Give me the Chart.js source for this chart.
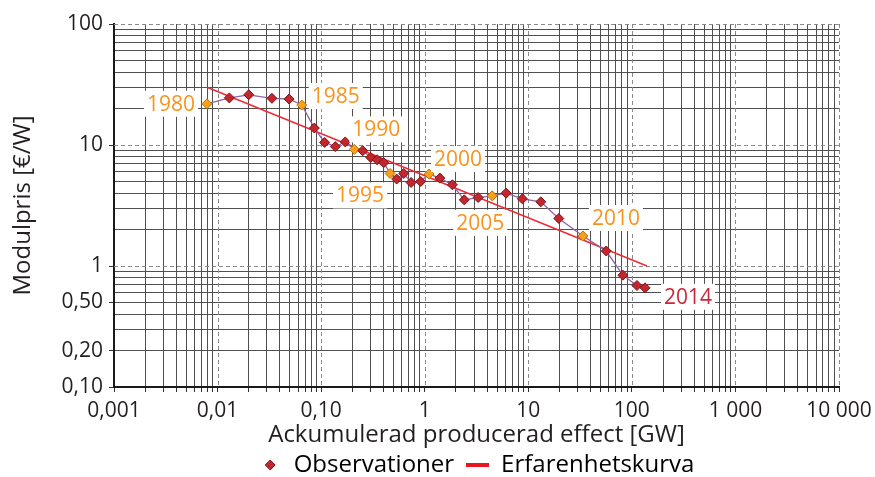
<!DOCTYPE html>
<html>
<head>
<meta charset="utf-8">
<script src="https://cdn.jsdelivr.net/npm/chart.js@4/dist/chart.umd.min.js"></script>
<style>
  body { margin: 0; background: #fff; }
  #wrap { width: 875px; height: 477px; }
</style>
</head>
<body>
<div id="wrap"><canvas id="chart"></canvas></div>
<script>
// Module price vs cumulative produced capacity (log-log)
const years = [1980, 1981, 1982, 1983, 1984, 1985, 1986, 1987, 1988, 1989,
  1990, 1991, 1992, 1993, 1994, 1995, 1996, 1997, 1998, 1999,
  2000, 2001, 2002, 2003, 2004, 2005, 2006, 2007, 2008, 2009,
  2010, 2011, 2012, 2013, 2014];
const capacityGW = [0.0079, 0.013, 0.020, 0.0335, 0.049, 0.065, 0.086, 0.108, 0.137, 0.171,
  0.209, 0.252, 0.301, 0.347, 0.402, 0.463, 0.536, 0.627, 0.738, 0.914,
  1.10, 1.40, 1.85, 2.41, 3.28, 4.48, 6.11, 8.77, 13.2, 19.7,
  33.7, 56.6, 81.9, 112, 134];
const priceEurW = [21.9, 24.5, 26.0, 24.3, 24.0, 21.4, 13.8, 10.5, 9.7, 10.6,
  9.2, 8.97, 7.89, 7.55, 7.13, 5.82, 5.23, 5.82, 4.90, 4.99,
  5.75, 5.33, 4.69, 3.52, 3.68, 3.80, 4.00, 3.59, 3.39, 2.47,
  1.77, 1.33, 0.84, 0.69, 0.66];

// experience curve end points
const curveCapacityGW = [0.0079, 140];
const curvePriceEurW = [30, 1.0];

const labelYears = [1980, 1985, 1990, 1995, 2000, 2005, 2010, 2014];

const xTickValues = [0.001, 0.01, 0.1, 1, 10, 100, 1000, 10000];
const xTickLabels = ["0,001", "0,01", "0,10", "1", "10", "100", "1 000", "10 000"];
const yTickValues = [0.1, 0.2, 0.5, 1, 10, 100];
const yTickLabels = ["0,10", "0,20", "0,50", "1", "10", "100"];

// styling
const FONT = "'Open Sans', sans-serif";
const TEXT = "#231f20";
const RED = "#c1272d";
const RED_EDGE = "#7d1518";
const ORANGE = "#f7a11a";
const ORANGE_EDGE = "#b8730c";
const LABEL_ORANGE = "#f7941d";
const LABEL_RED = "#c8283c";
const CURVE = "#ee2a35";
const PURPLE = "#8e63a8";

// label offset from its point, in px
const labelOffsets = {
  1980: [-36, 0], 1985: [34, -9], 1990: [22, -20], 1995: [-30, 22],
  2000: [29, -15], 2005: [-12, 27], 2010: [33, -18], 2014: [43, 9]
};

function logTicks(min, max) {
  const out = [];
  for (let e = Math.log10(min); e < Math.log10(max); e++) {
    for (let m = 1; m <= 9; m++) {
      out.push(parseFloat((m * Math.pow(10, e)).toPrecision(6)));
    }
  }
  out.push(max);
  return out;
}

function sameVal(a, b) {
  return Math.abs(Math.log10(a) - Math.log10(b)) < 1e-6;
}

function findIdx(list, v) {
  return list.findIndex(t => sameVal(t, v));
}

// dashed lines at each decade
const decadeGrid = {
  id: "decadeGrid",
  beforeDatasetsDraw(chart) {
    const { ctx, chartArea: a, scales: { x, y } } = chart;
    ctx.save();
    ctx.strokeStyle = "#8a8a8a";
    ctx.lineWidth = 1;
    ctx.setLineDash([4, 3]);
    xTickValues.forEach(v => {
      if (sameVal(v, xTickValues[0])) return;
      const px = Math.round(x.getPixelForValue(v)) + 0.5;
      ctx.beginPath();
      ctx.moveTo(px, a.top);
      ctx.lineTo(px, a.bottom);
      ctx.stroke();
    });
    [1, 10, 100].forEach(v => {
      const py = Math.round(y.getPixelForValue(v)) + 0.5;
      ctx.beginPath();
      ctx.moveTo(a.left, py);
      ctx.lineTo(a.right, py);
      ctx.stroke();
    });
    ctx.restore();
  }
};

// year labels on white boxes
const yearLabels = {
  id: "yearLabels",
  afterDatasetsDraw(chart) {
    const { ctx } = chart;
    const meta = chart.getDatasetMeta(0);
    ctx.save();
    ctx.font = "21px " + FONT;
    ctx.textAlign = "center";
    ctx.textBaseline = "middle";
    labelYears.forEach(yr => {
      const i = years.indexOf(yr);
      const pt = meta.data[i];
      const off = labelOffsets[yr];
      const cx = pt.x + off[0];
      const cy = pt.y + off[1];
      const w = ctx.measureText(String(yr)).width + 6;
      ctx.fillStyle = "#fff";
      ctx.fillRect(cx - w / 2, cy - 13, w, 26);
      ctx.fillStyle = yr % 5 === 0 ? LABEL_ORANGE : LABEL_RED;
      ctx.fillText(String(yr), cx, cy + 1);
    });
    ctx.restore();
  }
};

function makeDiamond() {
  const c = document.createElement("canvas");
  c.width = 12; c.height = 12;
  const g = c.getContext("2d");
  g.beginPath();
  g.moveTo(6, 1); g.lineTo(11, 6); g.lineTo(6, 11); g.lineTo(1, 6); g.closePath();
  g.fillStyle = RED; g.fill();
  g.strokeStyle = RED_EDGE; g.lineWidth = 1; g.stroke();
  return c;
}

function makeDash() {
  const c = document.createElement("canvas");
  c.width = 23; c.height = 4;
  const g = c.getContext("2d");
  g.fillStyle = "#e8151f";
  g.fillRect(0, 0, 23, 4);
  return c;
}

const obsPoints = capacityGW.map((v, i) => ({ x: v, y: priceEurW[i] }));
const curvePoints = curveCapacityGW.map((v, i) => ({ x: v, y: curvePriceEurW[i] }));
const isMark = years.map(y => y % 5 === 0);

Chart.defaults.font.family = FONT;
Chart.defaults.color = TEXT;

const diamondImg = makeDiamond();
const dashImg = makeDash();

new Chart(document.getElementById("chart"), {
  type: "scatter",
  data: {
    datasets: [
      {
        label: "Observationer",
        data: obsPoints,
        showLine: true,
        borderColor: PURPLE,
        borderWidth: 1.3,
        pointStyle: "rectRot",
        pointRadius: 5,
        pointBorderWidth: 1,
        pointBackgroundColor: isMark.map(m => (m ? ORANGE : RED)),
        pointBorderColor: isMark.map(m => (m ? ORANGE_EDGE : RED_EDGE)),
        order: 1
      },
      {
        label: "Erfarenhetskurva",
        data: curvePoints,
        showLine: true,
        borderColor: CURVE,
        borderWidth: 1.5,
        pointRadius: 0,
        order: 2
      }
    ]
  },
  options: {
    responsive: true,
    maintainAspectRatio: false,
    animation: false,
    layout: { padding: { top: 24, right: 36, left: 0, bottom: 0 } },
    scales: {
      x: {
        type: "logarithmic",
        min: 0.001,
        max: 10000,
        afterBuildTicks: s => { s.ticks = logTicks(0.001, 10000).map(v => ({ value: v })); },
        afterFit: s => { s.height = 54; s.paddingRight = 0; },
        border: { color: "#1a1a1a", width: 2 },
        grid: {
          color: c => (findIdx(xTickValues, c.tick.value) >= 0 ? "rgba(0,0,0,0)" : "#505050"),
          lineWidth: 1,
          tickColor: "#333",
          tickLength: 5
        },
        ticks: {
          autoSkip: false,
          maxRotation: 0,
          padding: 6,
          font: { size: 21 },
          color: TEXT,
          callback: (val, i, ticks) => {
            const k = findIdx(xTickValues, ticks[i].value);
            return k >= 0 ? xTickLabels[k] : "";
          }
        },
        title: {
          display: true,
          text: "Ackumulerad producerad effect [GW]",
          font: { size: 24 },
          color: TEXT,
          padding: { top: 0, bottom: -9 }
        }
      },
      y: {
        type: "logarithmic",
        min: 0.1,
        max: 100,
        afterBuildTicks: s => { s.ticks = logTicks(0.1, 100).map(v => ({ value: v })); },
        afterFit: s => { s.width = 114; },
        border: { color: "#1a1a1a", width: 2 },
        grid: {
          color: c => (findIdx([0.1, 1, 10, 100], c.tick.value) >= 0 ? "rgba(0,0,0,0)" : "#505050"),
          lineWidth: 1,
          tickColor: c => (findIdx(yTickValues, c.tick.value) >= 0 ? "#333" : "rgba(0,0,0,0)"),
          tickLength: 5
        },
        ticks: {
          autoSkip: false,
          padding: 6,
          font: { size: 21 },
          color: TEXT,
          callback: (val, i, ticks) => {
            const k = findIdx(yTickValues, ticks[i].value);
            return k >= 0 ? yTickLabels[k] : "";
          }
        },
        title: {
          display: true,
          text: "Modulpris [€/W]",
          font: { size: 24 },
          color: TEXT,
          padding: { top: 9, bottom: 0 }
        }
      }
    },
    plugins: {
      tooltip: { enabled: false },
      legend: {
        position: "bottom",
        fullSize: false,
        maxHeight: 36,
        labels: {
          usePointStyle: true,
          boxWidth: 23,
          padding: 12,
          font: { size: 24 },
          color: TEXT,
          generateLabels: () => [
            { text: "Observationer", pointStyle: diamondImg, fillStyle: RED, strokeStyle: RED, lineWidth: 0, datasetIndex: 0, hidden: false },
            { text: "Erfarenhetskurva", pointStyle: dashImg, fillStyle: CURVE, strokeStyle: CURVE, lineWidth: 0, datasetIndex: 1, hidden: false }
          ]
        }
      }
    }
  },
  plugins: [decadeGrid, yearLabels]
});
</script>
</body>
</html>
